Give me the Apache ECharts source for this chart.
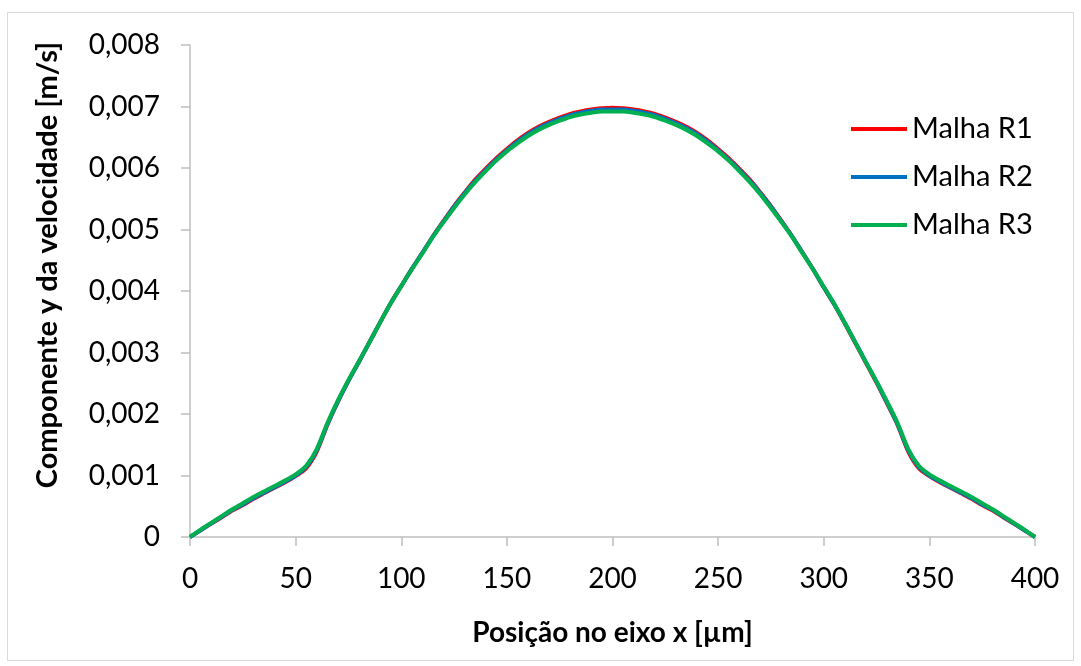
<!DOCTYPE html>
<html>
<head>
<meta charset="utf-8">
<script src="https://cdn.jsdelivr.net/npm/echarts@6/dist/echarts.min.js"></script>
<style>html,body{margin:0;padding:0;background:#fff}#c{width:1081px;height:666px}</style>
</head>
<body>
<div id="c"></div>
<script>
const seriesNames = ['Malha R1', 'Malha R2', 'Malha R3'];
const xs = [0,5,10,15,20,25,30,35,40,45,50,55,60,65,70,75,80,85,90,95,100,105,110,115,120,125,130,135,140,145,150,155,160,165,170,175,180,185,190,195,200,205,210,215,220,225,230,235,240,245,250,255,260,265,270,275,280,285,290,295,300,305,310,315,320,325,330,335,340,345,350,355,360,365,370,375,380,385,390,395,400];
const r1 = [0,.00011,.00022,.00032,.00043,.00052,.00062,.00071,.00080,.00089,.00099,.00112,.00139,.00182,.00220,.00254,.00285,.00317,.00349,.00380,.00408,.00436,.00462,.00489,.00514,.00538,.00560,.00581,.00599,.00616,.00631,.00645,.00657,.00667,.00675,.00682,.00688,.00692,.00695,.00697,.00698,
  .00697,.00695,.00692,.00688,.00682,.00675,.00667,.00657,.00645,.00631,.00616,.00599,.00581,.00560,.00538,.00514,.00489,.00462,.00435,.00406,.00378,.00347,.00315,.00283,.00251,.00217,.00182,.00139,.00112,.00099,.00089,.00080,.00071,.00062,.00052,.00043,.00032,.00022,.00011,0];
const r2 = [0,.00011,.00022,.00033,.00044,.00053,.00063,.00072,.00081,.00090,.00100,.00114,.00141,.00183,.00220,.00254,.00285,.00317,.00349,.00380,.00408,.00436,.00462,.00489,.00513,.00537,.00559,.00579,.00597,.00614,.00629,.00643,.00655,.00665,.00673,.00680,.00686,.00690,.00693,.00695,.00695,
  .00695,.00693,.00690,.00686,.00680,.00673,.00665,.00655,.00643,.00629,.00614,.00597,.00579,.00559,.00537,.00513,.00489,.00462,.00435,.00406,.00378,.00348,.00316,.00284,.00252,.00218,.00183,.00141,.00114,.00100,.00090,.00081,.00072,.00063,.00053,.00044,.00033,.00022,.00011,0];
const r3 = [0,.00012,.00023,.00034,.00045,.00055,.00065,.00074,.00083,.00092,.00102,.00116,.00143,.00185,.00222,.00255,.00286,.00317,.00349,.00380,.00408,.00435,.00461,.00488,.00512,.00535,.00557,.00577,.00595,.00612,.00627,.00640,.00652,.00662,.00670,.00677,.00683,.00687,.00690,.00692,.00692,
  .00692,.00690,.00687,.00683,.00677,.00670,.00662,.00652,.00640,.00627,.00612,.00595,.00577,.00557,.00535,.00512,.00488,.00461,.00435,.00407,.00379,.00348,.00316,.00284,.00253,.00220,.00185,.00143,.00116,.00102,.00092,.00083,.00074,.00065,.00055,.00045,.00034,.00023,.00012,0];
const colors = ['#ff0000', '#0070c0', '#00b050'];
const xTitle = 'Posição no eixo x [µm]';
const yTitle = 'Componente y da velocidade [m/s]';

const FONT = 'Lato, "Open Sans", sans-serif';
const chart = echarts.init(document.getElementById('c'), null, {renderer: 'canvas'});
const all = [r1, r2, r3];
chart.setOption({
  animation: false,
  backgroundColor: '#fff',
  graphic: [{type: 'rect', shape: {x: 7.5, y: 12.5, width: 1066, height: 648}, style: {fill: 'none', stroke: '#d9d9d9', lineWidth: 1}, silent: true, z: -1}],
  grid: {left: 190, right: 46, top: 45, bottom: 129, containLabel: false},
  legend: {
    orient: 'vertical', left: 846, top: 109,
    data: seriesNames.map(n => ({name: n, icon: 'rect'})),
    itemWidth: 56, itemHeight: 4, itemGap: 18,
    textStyle: {fontFamily: FONT, fontSize: 29, color: '#000', lineHeight: 30}
  },
  xAxis: {
    type: 'value', min: 0, max: 400, interval: 50,
    name: xTitle, nameLocation: 'middle', nameGap: 82,
    nameTextStyle: {fontFamily: FONT, fontSize: 28, fontWeight: 'bold', color: '#000'},
    axisLine: {show: true, lineStyle: {color: '#bfbfbf', width: 1.5}},
    axisTick: {show: true, inside: false, length: 9, lineStyle: {color: '#bfbfbf', width: 1.5}},
    splitLine: {show: false},
    axisLabel: {fontFamily: FONT, fontSize: 28, color: '#000', margin: 28}
  },
  yAxis: {
    type: 'value', min: 0, max: 0.008, interval: 0.001,
    name: yTitle, nameLocation: 'middle', nameGap: 128, nameRotate: 90,
    nameTextStyle: {fontFamily: FONT, fontSize: 29, fontWeight: 'bold', color: '#000', padding: [0, 0, 0, 52]},
    axisLine: {show: true, lineStyle: {color: '#bfbfbf', width: 1.5}},
    axisTick: {show: true, inside: false, length: 9, lineStyle: {color: '#bfbfbf', width: 1.5}},
    splitLine: {show: false},
    axisLabel: {fontFamily: FONT, fontSize: 28, color: '#000', margin: 30,
      formatter: v => v === 0 ? '0' : v.toFixed(3).replace('.', ',')}
  },
  series: seriesNames.map((n, k) => ({
    name: n, type: 'line', smooth: 0.25, showSymbol: false, symbol: 'none',
    data: xs.map((x, i) => [x, all[k][i]]),
    lineStyle: {color: colors[k], width: 4},
    itemStyle: {color: colors[k]},
    z: 2 + k
  }))
});
</script>
</body>
</html>
